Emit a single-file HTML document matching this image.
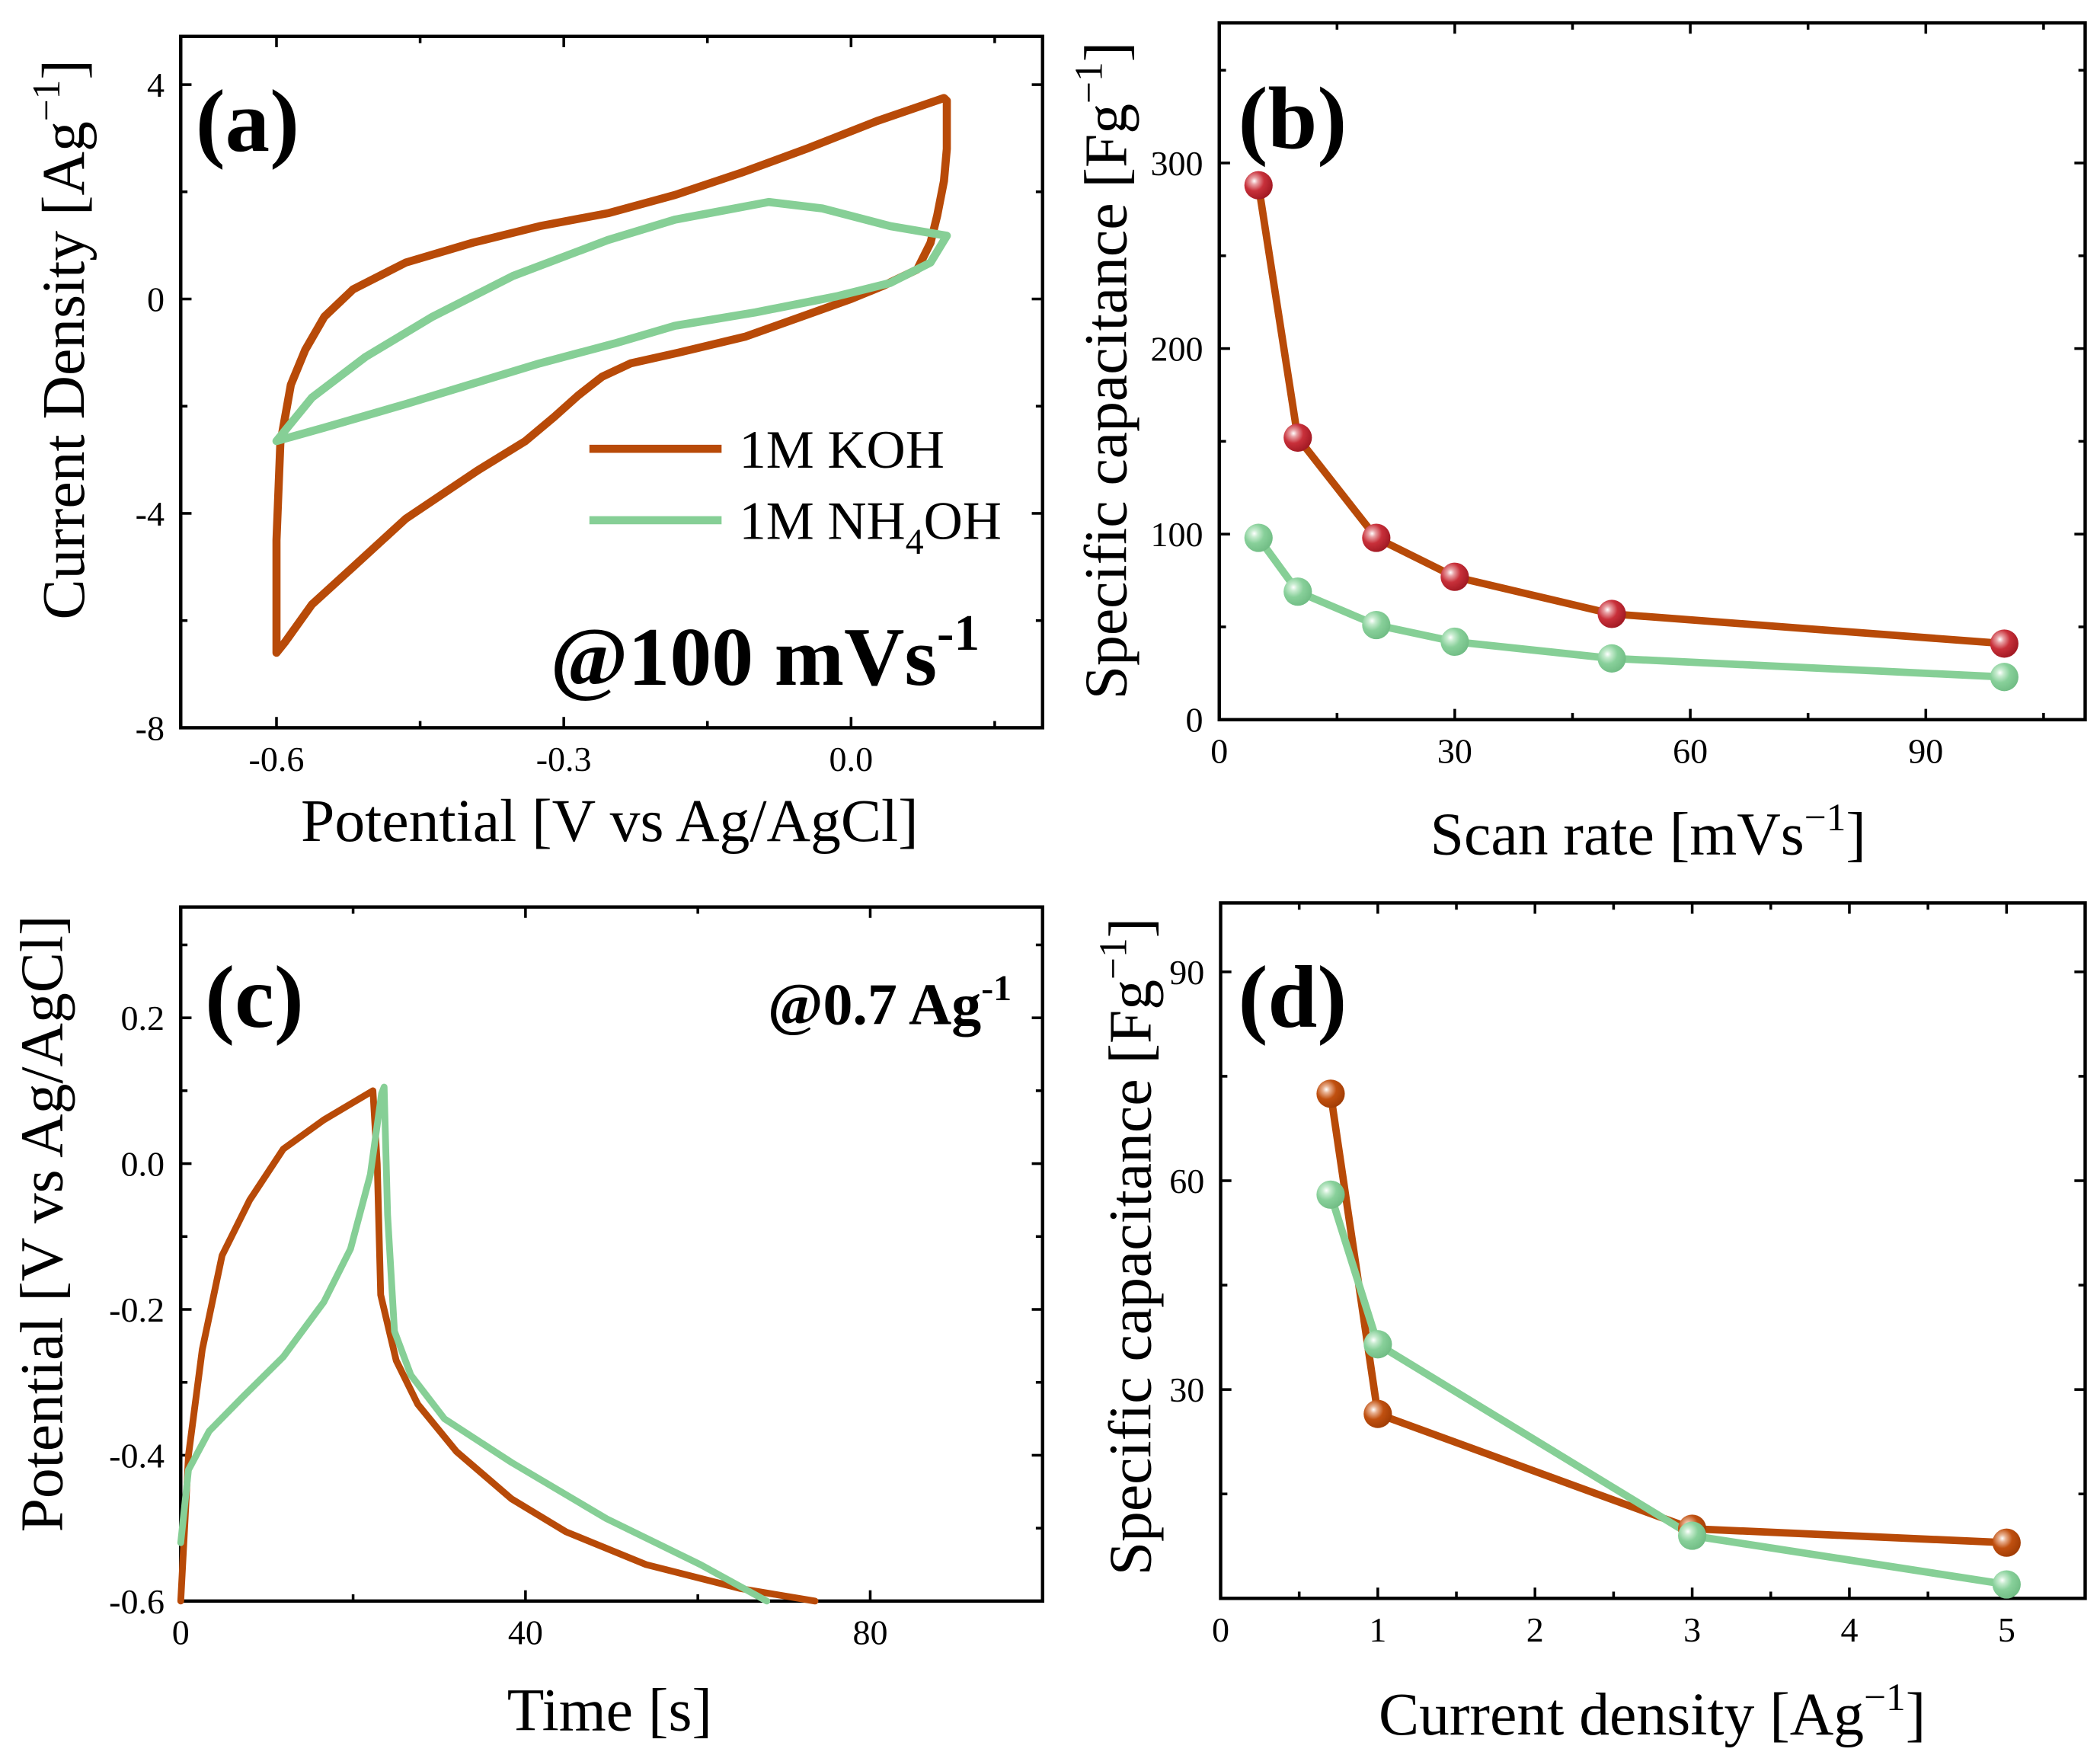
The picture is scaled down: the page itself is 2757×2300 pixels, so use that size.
<!DOCTYPE html>
<html><head><meta charset="utf-8"><style>
html,body{margin:0;padding:0;background:#fff}
svg{display:block}
text{font-family:"Liberation Serif",serif;fill:#000}
</style></head><body>
<svg id="fig" width="2757" height="2300" viewBox="0 0 1557 1300" preserveAspectRatio="none" xmlns="http://www.w3.org/2000/svg">
<defs>
<radialGradient id="gRed" cx="0.35" cy="0.35" r="0.7"><stop offset="0" stop-color="#fff"/><stop offset="0.18" stop-color="#e8a0a4"/><stop offset="0.5" stop-color="#c8303a"/><stop offset="1" stop-color="#a01822"/></radialGradient>
<radialGradient id="gOra" cx="0.35" cy="0.35" r="0.7"><stop offset="0" stop-color="#fff"/><stop offset="0.18" stop-color="#e8b090"/><stop offset="0.5" stop-color="#c05010"/><stop offset="1" stop-color="#a03c04"/></radialGradient>
<radialGradient id="gGrn" cx="0.35" cy="0.35" r="0.7"><stop offset="0" stop-color="#fff"/><stop offset="0.18" stop-color="#c8ecd0"/><stop offset="0.5" stop-color="#88d09a"/><stop offset="1" stop-color="#70bc84"/></radialGradient>
</defs>
<g id="root"></g>
</svg>
<script>
// ---- Panel (a) CV data ----
const cvKohX = [-0.6,-0.6,-0.596,-0.585,-0.57,-0.55,-0.52,-0.465,-0.395,-0.325,-0.254,-0.184,-0.114,-0.044,0.027,0.097,0.1,0.1,0.097,0.09,0.083,0.069,0.034,0,-0.044,-0.11,-0.18,-0.23,-0.26,-0.285,-0.31,-0.34,-0.39,-0.465,-0.52,-0.563,-0.591,-0.6];
const cvKohY = [-6.6,-4.5,-2.7,-1.6,-0.95,-0.33,0.18,0.68,1.05,1.36,1.6,1.94,2.36,2.82,3.32,3.75,3.7,2.8,2.2,1.56,1.05,0.55,0.25,0,-0.28,-0.7,-1.0,-1.2,-1.45,-1.8,-2.2,-2.65,-3.2,-4.1,-5.0,-5.7,-6.4,-6.6];
const cvNhX = [-0.6,-0.563,-0.507,-0.437,-0.353,-0.254,-0.184,-0.086,-0.03,0.041,0.1,0.083,0.041,-0.015,-0.1,-0.184,-0.247,-0.325,-0.465,-0.55,-0.6];
const cvNhY = [-2.65,-1.84,-1.08,-0.33,0.43,1.1,1.48,1.81,1.69,1.36,1.18,0.68,0.3,0.05,-0.25,-0.5,-0.83,-1.2,-1.96,-2.4,-2.65];
// ---- Panel (b) ----
const scanRates = [5,10,20,30,50,100];
const capKohB = [288,152,98,77,57,41];
const capNhB = [98,69,51,42,33,23];
// ---- Panel (c) GCD ----
const gcdKohT = [0,0.9,2.5,4.8,8,11.9,16.6,22.3,22.8,23.2,25,27.5,32,38.4,44.7,54,65,73.6];
const gcdKohV = [-0.6,-0.4,-0.255,-0.126,-0.05,0.02,0.06,0.1,0.0,-0.18,-0.27,-0.33,-0.395,-0.46,-0.505,-0.55,-0.583,-0.6];
const gcdNhT = [0,0.9,3.3,7.2,11.9,16.6,19.7,22,23.3,23.6,24,24.8,26.7,30.6,38.4,49.4,60.3,68];
const gcdNhV = [-0.52,-0.42,-0.367,-0.32,-0.265,-0.19,-0.117,-0.015,0.096,0.105,-0.07,-0.23,-0.29,-0.35,-0.41,-0.487,-0.55,-0.6];
// ---- Panel (d) ----
const currDens = [0.7,1,3,5];
const capKohD = [72.5,26.5,10,8];
const capNhD = [58,36.5,9,2];
// tick labels
const ticksAX = ["-0.6","-0.3","0.0"];
const ticksAY = ["-8","-4","0","4"];
const ticksBX = ["0","30","60","90"];
const ticksBY = ["0","100","200","300"];
const ticksCX = ["0","40","80"];
const ticksCY = ["-0.6","-0.4","-0.2","0.0","0.2"];
const ticksDX = ["0","1","2","3","4","5"];
const ticksDY = ["30","60","90"];

const NS="http://www.w3.org/2000/svg";
const root=document.getElementById('root');
const ORANGE="#b84a08", GREEN="#86cf96";
function mk(tag,attrs,parent){const e=document.createElementNS(NS,tag);for(const k in attrs)e.setAttribute(k,attrs[k]);(parent||root).appendChild(e);return e;}
function scale(d0,d1,r0,r1){return v=>r0+(v-d0)/(d1-d0)*(r1-r0);}

function axes(p){
  const g=mk('g',{});
  
  
  const sx=scale(p.xd[0],p.xd[1],p.L,p.R), sy=scale(p.yd[0],p.yd[1],p.B,p.T);
  p.major.x.forEach((v,i)=>{const x=sx(v);
    mk('line',{x1:x,y1:p.B,x2:x,y2:p.B-8,stroke:'#000','stroke-width':2},g);
    mk('line',{x1:x,y1:p.T,x2:x,y2:p.T+8,stroke:'#000','stroke-width':2},g);
    const t=mk('text',{x:x,y:p.B+32,'font-size':26,'text-anchor':'middle'},g);t.textContent=p.xl[i];
    });
  p.minor.x.forEach(v=>{const x=sx(v);
    mk('line',{x1:x,y1:p.B,x2:x,y2:p.B-5,stroke:'#000','stroke-width':2},g);
    mk('line',{x1:x,y1:p.T,x2:x,y2:p.T+5,stroke:'#000','stroke-width':2},g);});
  p.major.y.forEach((v,i)=>{const y=sy(v);
    mk('line',{x1:p.L,y1:y,x2:p.L+8,y2:y,stroke:'#000','stroke-width':2},g);
    mk('line',{x1:p.R,y1:y,x2:p.R-8,y2:y,stroke:'#000','stroke-width':2},g);
    const t=mk('text',{x:p.L-12,y:y+9,'font-size':26,'text-anchor':'end'},g);t.textContent=p.yl[i];
    });
  p.minor.y.forEach(v=>{const y=sy(v);
    mk('line',{x1:p.L,y1:y,x2:p.L+5,y2:y,stroke:'#000','stroke-width':2},g);
    mk('line',{x1:p.R,y1:y,x2:p.R-5,y2:y,stroke:'#000','stroke-width':2},g);});
  mk('rect',{x:p.L,y:p.T,width:p.R-p.L,height:p.B-p.T,fill:'none',stroke:'#000','stroke-width':2.5},g);
  return {sx,sy};
}
function line(xs,ys,s,color,name,w){
  const d=xs.map((x,i)=>(i?'L':'M')+s.sx(x).toFixed(2)+','+s.sy(ys[i]).toFixed(2)).join(' ');
  const e=mk('path',{d:d,fill:'none',stroke:color,'stroke-width':w||5,'stroke-linejoin':'round','stroke-linecap':'round'});
  
  
}
function markers(xs,ys,s,grad,name){
  xs.forEach((x,i)=>{const c=mk('circle',{cx:s.sx(x),cy:s.sy(ys[i]),r:10.5,fill:'url(#'+grad+')'});
    
    });
}
function txt(x,y,str,size,opts){const t=mk('text',Object.assign({x:x,y:y,'font-size':size},opts||{}));t.innerHTML=str;return t;}

// Panel a
const pa={name:'panel-a',L:134,R:773,T:27,B:540,xd:[-0.7,0.2],yd:[-8,4.9],
  major:{x:[-0.6,-0.3,0],y:[-8,-4,0,4]},minor:{x:[-0.45,-0.15,0.15],y:[-6,-2,2]},xl:ticksAX,yl:ticksAY};
const sa=axes(pa);
line(cvKohX,cvKohY,sa,ORANGE,'cv-koh-curve',6);
line(cvNhX,cvNhY,sa,GREEN,'cv-nh4oh-curve',6);
let t;
t=txt(145,112,'(a)',66,{'font-weight':'bold'});
t=txt(408,508,'@100 mVs<tspan font-size="38" dy="-26">-1</tspan>',62,{'font-weight':'bold'});
let l=mk('line',{x1:437,y1:333,x2:535,y2:333,stroke:ORANGE,'stroke-width':6});
l=mk('line',{x1:437,y1:386,x2:535,y2:386,stroke:GREEN,'stroke-width':6});
t=txt(548,347,'1M KOH',40);
t=txt(548,400,'1M NH<tspan font-size="27" dy="11">4</tspan><tspan dy="-11">OH</tspan>',40);
t=txt(452,624,'Potential [V vs Ag/AgCl]',45,{'text-anchor':'middle'});
t=txt(0,0,'Current Density [Ag<tspan font-size="29" dy="-18">−1</tspan><tspan dy="18">]</tspan>',45,{'text-anchor':'middle',transform:'translate(62,252) rotate(-90)'});

// Panel b
const pb={name:'panel-b',L:904,R:1546,T:17,B:534,xd:[0,110.3],yd:[0,375.5],
  major:{x:[0,30,60,90],y:[0,100,200,300]},minor:{x:[15,45,75,105],y:[50,150,250,350]},xl:ticksBX,yl:ticksBY};
const sb=axes(pb);
line(scanRates,capKohB,sb,ORANGE,'koh-scan-rate-line',5.5);
line(scanRates,capNhB,sb,GREEN,'nh4oh-scan-rate-line',5.5);
markers(scanRates,capKohB,sb,'gRed','koh-scan-rate-marker');
markers(scanRates,capNhB,sb,'gGrn','nh4oh-scan-rate-marker');
t=txt(918,110,'(b)',66,{'font-weight':'bold'});
t=txt(1222,634,'Scan rate [mVs<tspan font-size="29" dy="-18">−1</tspan><tspan dy="18">]</tspan>',45,{'text-anchor':'middle'});
t=txt(0,0,'Specific capacitance [Fg<tspan font-size="29" dy="-18">−1</tspan><tspan dy="18">]</tspan>',45,{'text-anchor':'middle',transform:'translate(835,275) rotate(-90)'});

// Panel c
const pc={name:'panel-c',L:134,R:773,T:673,B:1188,xd:[0,100],yd:[-0.6,0.352],
  major:{x:[0,40,80],y:[-0.6,-0.4,-0.2,0,0.2]},minor:{x:[20,60],y:[-0.5,-0.3,-0.1,0.1,0.3]},xl:ticksCX,yl:ticksCY};
const sc=axes(pc);
line(gcdKohT,gcdKohV,sc,ORANGE,'gcd-koh-curve',5);
line(gcdNhT,gcdNhV,sc,GREEN,'gcd-nh4oh-curve',5);
t=txt(152,762,'(c)',66,{'font-weight':'bold'});
t=txt(750,760,'@0.7 Ag<tspan font-size="27" dy="-18">-1</tspan>',44,{'font-weight':'bold','text-anchor':'end'});
t=txt(452,1284,'Time [s]',45,{'text-anchor':'middle'});
t=txt(0,0,'Potential [V vs Ag/AgCl]',45,{'text-anchor':'middle',transform:'translate(46,908) rotate(-90)'});

// Panel d
const pd={name:'panel-d',L:905,R:1546,T:670,B:1186,xd:[0,5.5],yd:[0,99.9],
  major:{x:[0,1,2,3,4,5],y:[30,60,90]},minor:{x:[0.5,1.5,2.5,3.5,4.5],y:[15,45,75]},xl:ticksDX,yl:ticksDY};
const sd=axes(pd);
line(currDens,capKohD,sd,ORANGE,'koh-current-density-line',5.5);
line(currDens,capNhD,sd,GREEN,'nh4oh-current-density-line',5.5);
markers(currDens,capKohD,sd,'gOra','koh-current-density-marker');
markers(currDens,capNhD,sd,'gGrn','nh4oh-current-density-marker');
t=txt(918,762,'(d)',66,{'font-weight':'bold'});
t=txt(1225,1287,'Current density [Ag<tspan font-size="29" dy="-18">−1</tspan><tspan dy="18">]</tspan>',45,{'text-anchor':'middle'});
t=txt(0,0,'Specific capacitance [Fg<tspan font-size="29" dy="-18">−1</tspan><tspan dy="18">]</tspan>',45,{'text-anchor':'middle',transform:'translate(853,925) rotate(-90)'});
</script>
</body></html>
